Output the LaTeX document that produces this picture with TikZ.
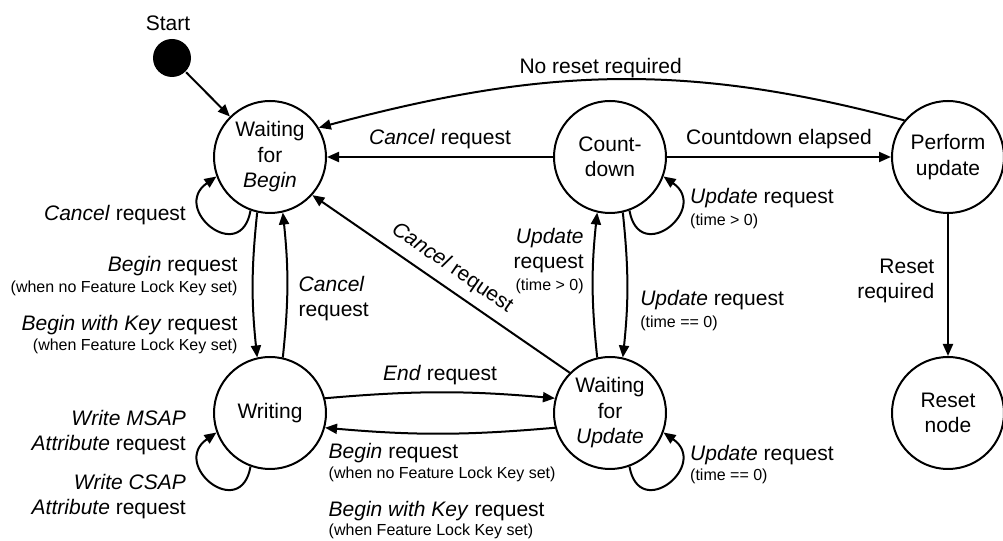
\documentclass[tikz,border=0pt]{standalone}
\usepackage{fontspec}
\setmainfont{Liberation Sans}
\usetikzlibrary{arrows.meta}
\tikzset{every picture/.style={>={Triangle[length=6pt,width=5pt]}, line width=1pt}}
\tikzset{state/.style={circle,draw,minimum size=56pt,inner sep=0pt,align=center}}
\tikzset{startdot/.style={circle,fill,minimum size=19pt,inner sep=0pt}}
\tikzset{selfloop/.style={looseness=3}}
\newcommand{\guard}[1]{{\fontsize{8}{9.6}\selectfont #1}}

\begin{document}
\begin{tikzpicture}[x=0.5pt,y=0.5pt,font=\fontsize{10.5}{12.75}\selectfont]
	\useasboundingbox (0,0) rectangle (1003,541);
	% states
	\node[startdot,label={[xshift=-2pt]above:Start}] (start) at (172,483) {};
	\node[state] (wfb) at (270,384) {Waiting\\for\\\textit{Begin}};
	\node[state] (wri) at (270,128) {Writing};
	\node[state] (cnt) at (610,384) {Count-\\down};
	\node[state] (wfu) at (610,128) {Waiting\\for\\\textit{Update}};
	\node[state] (pu) at (948,384) {Perform\\update};
	\node[state] (rst) at (948,128) {Reset\\node};
	% transitions
	\draw[->] (start) -- (wfb);
	\draw[->,out=165,in=15] (pu.140) to node[pos=0.52,above=-3pt] (lnoreset) {No reset required} (wfb.31);
	\draw[->] (cnt) -- node[above] (lcancelcnt) {\textit{Cancel} request} (wfb);
	\draw[->] (cnt) -- node[above] (lelapsed) {Countdown elapsed} (pu);
	\draw[->] (pu) -- node[pos=0.47,left=3pt,align=right] (lreset) {Reset\\required} (rst);
	\draw[->] (wfu.135) -- node[sloped,above=1pt] (lcanceldiag) {\textit{Cancel} request} (wfb.318);
	\draw[->,bend right=6] (wfb.257) to node[pos=0.65,left=4pt,align=right] (lbegin)
		{\textit{Begin} request\\[-2.25pt]\guard{(when no Feature Lock Key set)}\\[6.25pt]
		\textit{Begin with Key} request\\[-2.75pt]\guard{(when Feature Lock Key set)}} (wri.103);
	\draw[->,bend right=6] (wri.77) to node[pos=0.4,right=2pt,align=left] (lcancelwri)
		{\textit{Cancel}\\request} (wfb.283);
	\draw[->,bend left=5] (wri.15) to node[above] (lend) {\textit{End} request} (wfu.165);
	\draw[->,bend left=5] (wfu.195) to node[pos=1,anchor=north west,xshift=-2pt,yshift=-4pt,align=left] (lbeginback)
		{\textit{Begin} request\\[-2.75pt]\guard{(when no Feature Lock Key set)}\\[6.25pt]
		\textit{Begin with Key} request\\[-3.25pt]\guard{(when Feature Lock Key set)}} (wri.-15);
	\draw[->,bend left=6] (wfu.103) to node[pos=0.68,left=1pt,align=right] (lupgt)
		{\textit{Update}\\request\\[-2pt]\guard{(time > 0)}} (cnt.257);
	\draw[->,bend left=6] (cnt.283) to node[pos=0.69,right=3pt,align=left] (lupeq)
		{\textit{Update} request\\[-2pt]\guard{(time == 0)}} (wfu.77);
	% self loops
	\draw[->,selfloop] (wfb.250) to[out=260,in=215] node[pos=0.7,left=4pt,yshift=-3pt] (lcancelloop)
		{\textit{Cancel} request} (wfb.200);
	\draw[->,selfloop] (wri.250) to[out=260,in=215] node[pos=0.7,left=4pt,align=right] (lwrite)
		{\textit{Write MSAP}\\\textit{Attribute} request\\[6.5pt]\textit{Write CSAP}\\\textit{Attribute} request} (wri.200);
	\draw[->,selfloop] (cnt.290) to[out=280,in=325] node[pos=0.7,right=2pt,align=left] (lcntloop)
		{\textit{Update} request\\[-2pt]\guard{(time > 0)}} (cnt.340);
	\draw[->,selfloop] (wfu.290) to[out=280,in=325] node[pos=0.7,right=2pt,align=left] (lwfuloop)
		{\textit{Update} request\\[-3pt]\guard{(time == 0)}} (wfu.340);
\end{tikzpicture}
\end{document}
